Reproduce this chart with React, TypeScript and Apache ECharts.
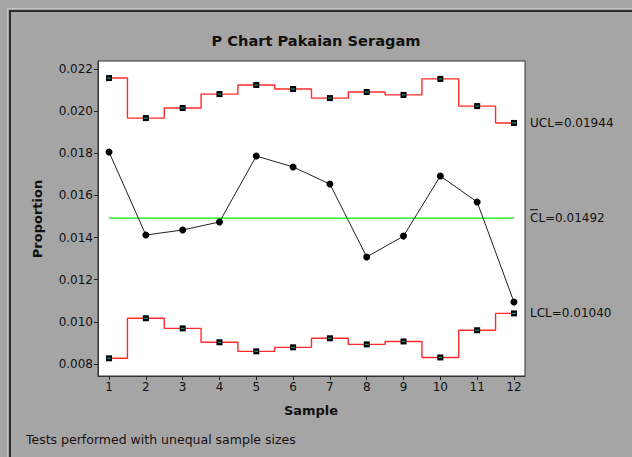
import React, { useEffect, useRef } from "react";
import * as echarts from "echarts";

const samples = [1, 2, 3, 4, 5, 6, 7, 8, 9, 10, 11, 12];
const proportions = [0.01806, 0.01412, 0.01436, 0.01474, 0.01787, 0.01735, 0.01654, 0.01308, 0.01407, 0.01692, 0.01569, 0.01094];
const uclValues = [0.02157, 0.01967, 0.02015, 0.02081, 0.02124, 0.02105, 0.02062, 0.02091, 0.02077, 0.02153, 0.02024, 0.01944];
const lclValues = [0.00827, 0.01017, 0.00969, 0.00903, 0.0086, 0.00879, 0.00922, 0.00893, 0.00907, 0.00831, 0.0096, 0.0104];
const centerLine = 0.01492;
const yTicks = [0.008, 0.01, 0.012, 0.014, 0.016, 0.018, 0.02, 0.022];
const titleText = "P Chart Pakaian Seragam";
const xName = "Sample";
const yName = "Proportion";
const footnote = "Tests performed with unequal sample sizes";
const uclLabel = "UCL=0.01944";
const clLabel = "CL=0.01492";
const lclLabel = "LCL=0.01040";

const FONT = "'DejaVu Sans', Verdana, sans-serif";

export default function App() {
  const ref = useRef<HTMLDivElement>(null);
  useEffect(() => {
    if (!ref.current) return;
    const chart = echarts.init(ref.current, null, { renderer: "svg" });
    const pts = (vals: number[]) => samples.map((s, i) => [s, vals[i]]);
    const baseGraphic: any[] = [
      { type: "rect", shape: { x: 7.5, y: 8.5, width: 700, height: 500 }, style: { fill: "none", stroke: "#c4c4c4", lineWidth: 1 }, silent: true },
      { type: "rect", shape: { x: 10, y: 11, width: 700, height: 500 }, style: { fill: "none", stroke: "#2c2c2c", lineWidth: 2 }, silent: true },
      { type: "text", left: "center", top: 33, style: { text: titleText, font: `bold 14.6px ${FONT}`, fill: "#111" } },
      { type: "text", left: 26, top: 433, style: { text: footnote, font: `12.5px ${FONT}`, fill: "#1a1010" } },
      { type: "text", x: 311, y: 410, style: { text: xName, font: `bold 13px ${FONT}`, fill: "#111", align: "center", verticalAlign: "middle" } },
      { type: "text", x: 37, y: 219, rotation: Math.PI / 2, style: { text: yName, font: `bold 13px ${FONT}`, fill: "#111", align: "center", verticalAlign: "middle" } },
    ];
    const option: any = {
      animation: false,
      backgroundColor: "#a5a5a5",
      textStyle: { fontFamily: FONT },
      grid: { left: 98, top: 61, right: 107, bottom: 81, show: true, backgroundColor: "#ffffff", borderColor: "#333333", borderWidth: 1 },
      xAxis: {
        type: "value",
        min: 0.7,
        max: 12.3,
        axisLine: { show: true, lineStyle: { color: "#333" } },
        axisTick: { show: true, length: 4, customValues: samples, lineStyle: { color: "#222" } },
        axisLabel: { customValues: samples, color: "#111", fontSize: 12, margin: 5, fontFamily: FONT },
        splitLine: { show: false },
      },
      yAxis: {
        type: "value",
        min: 0.00743,
        max: 0.02238,
        axisLine: { show: true, lineStyle: { color: "#333" } },
        axisTick: { show: true, length: 4, customValues: yTicks, lineStyle: { color: "#222" } },
        axisLabel: { customValues: yTicks, color: "#111", fontSize: 12, margin: 5, fontFamily: FONT, formatter: (v: number) => v.toFixed(3) },
        splitLine: { show: false },
      },
      series: [
        { type: "line", data: [[samples[0], centerLine], [samples[samples.length - 1], centerLine]], symbol: "none", lineStyle: { color: "#00ee00", width: 1.2 }, z: 2 },
        { type: "line", step: "middle", data: pts(uclValues), symbol: "rect", symbolSize: 6, itemStyle: { color: "#000" }, lineStyle: { color: "#ff2a2a", width: 1.4 }, z: 3 },
        { type: "line", step: "middle", data: pts(lclValues), symbol: "rect", symbolSize: 6, itemStyle: { color: "#000" }, lineStyle: { color: "#ff2a2a", width: 1.4 }, z: 3 },
        { type: "scatter", data: pts(uclValues), symbol: "rect", symbolSize: [4, 1.2], itemStyle: { color: "#1ab5b5" }, z: 5 },
        { type: "scatter", data: pts(lclValues), symbol: "rect", symbolSize: [4, 1.2], itemStyle: { color: "#1ab5b5" }, z: 5 },
        { type: "line", data: pts(proportions), symbol: "circle", symbolSize: 7, itemStyle: { color: "#000" }, lineStyle: { color: "#222", width: 1 }, z: 4 },
      ],
      graphic: baseGraphic,
    };
    chart.setOption(option);
    const lastX = samples[samples.length - 1];
    const yU = chart.convertToPixel({ gridIndex: 0 }, [lastX, uclValues[uclValues.length - 1]])[1];
    const yC = chart.convertToPixel({ gridIndex: 0 }, [lastX, centerLine])[1];
    const yL = chart.convertToPixel({ gridIndex: 0 }, [lastX, lclValues[lclValues.length - 1]])[1];
    const labelFont = `12px ${FONT}`;
    chart.setOption({
      graphic: [
        ...baseGraphic,
        { type: "text", x: 530, y: yU, style: { text: uclLabel, font: labelFont, fill: "#111", verticalAlign: "middle" } },
        { type: "text", x: 530, y: yC, style: { text: clLabel, font: labelFont, fill: "#111", verticalAlign: "middle" } },
        { type: "line", shape: { x1: 530, y1: yC - 8.5, x2: 538, y2: yC - 8.5 }, style: { stroke: "#111", lineWidth: 1 } },
        { type: "text", x: 530, y: yL, style: { text: lclLabel, font: labelFont, fill: "#111", verticalAlign: "middle" } },
      ],
    });
    return () => chart.dispose();
  }, []);
  return <div ref={ref} style={{ position: "fixed", left: 0, top: 0, width: 632, height: 457 }} />;
}
